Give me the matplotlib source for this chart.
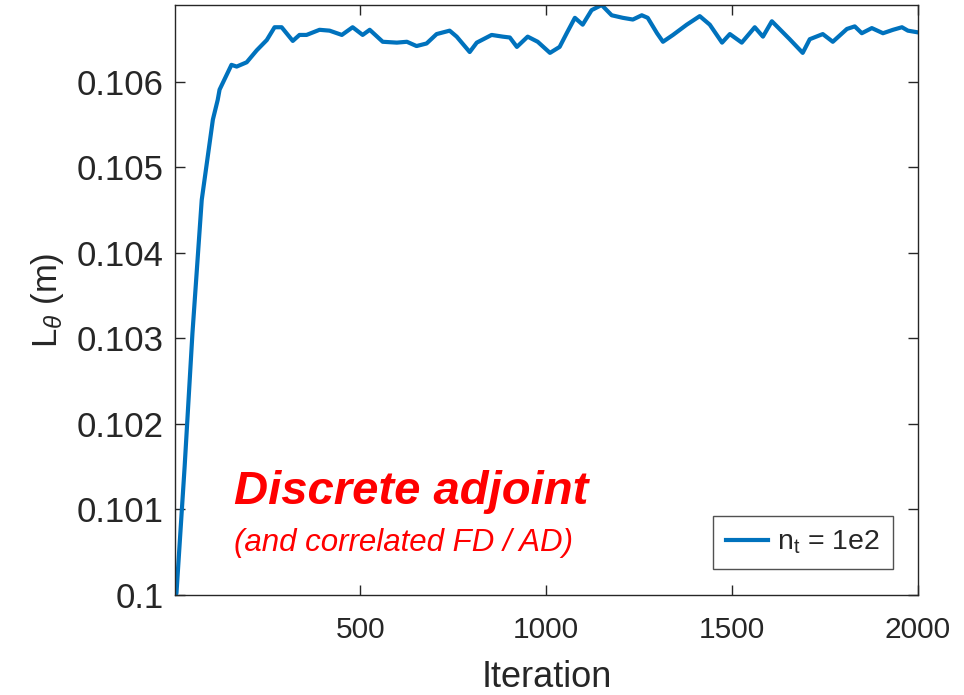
import matplotlib
matplotlib.use("Agg")
import matplotlib.pyplot as plt

plt.rcParams['font.family'] = ['Liberation Sans', 'DejaVu Sans']
plt.rcParams['mathtext.fontset'] = 'custom'
plt.rcParams['mathtext.rm'] = 'Liberation Sans'
plt.rcParams['mathtext.it'] = 'Liberation Sans:italic'

# values
iteration = [1, 5, 27, 48, 73, 103, 116, 121, 153, 167, 194, 221, 248, 269, 288, 318,
             336, 355, 390, 417, 450, 479, 506, 525, 560, 598, 625, 651, 678, 705,
             740, 759, 794, 813, 853, 883, 902, 921, 950, 977, 1010, 1036, 1055,
             1077, 1098, 1122, 1149, 1176, 1206, 1233, 1257, 1273, 1298, 1314, 1341,
             1378, 1413, 1440, 1473, 1494, 1526, 1561, 1583, 1607, 1655, 1690, 1709,
             1744, 1771, 1809, 1830, 1849, 1876, 1906, 1933, 1957, 1973, 2000]
L_theta = [0.10000, 0.10002, 0.10150, 0.10306, 0.10462, 0.10556, 0.10579, 0.10591,
           0.10620, 0.10618, 0.10623, 0.10637, 0.10649, 0.10664, 0.10664, 0.10648,
           0.10655, 0.10655, 0.10661, 0.10660, 0.10655, 0.10664, 0.10655, 0.10661,
           0.10647, 0.10646, 0.10647, 0.10642, 0.10645, 0.10656, 0.10660, 0.10653,
           0.10635, 0.10646, 0.10655, 0.10653, 0.10652, 0.10641, 0.10653, 0.10647,
           0.10634, 0.10641, 0.10657, 0.10675, 0.10667, 0.10684, 0.10690, 0.10678,
           0.10675, 0.10673, 0.10678, 0.10675, 0.10657, 0.10647, 0.10655, 0.10667,
           0.10677, 0.10667, 0.10646, 0.10656, 0.10646, 0.10664, 0.10653, 0.10671,
           0.10650, 0.10634, 0.10650, 0.10656, 0.10647, 0.10662, 0.10665, 0.10657,
           0.10663, 0.10657, 0.10661, 0.10664, 0.10660, 0.10658]

xtick_vals = [500, 1000, 1500, 2000]
ytick_vals = [0.100, 0.101, 0.102, 0.103, 0.104, 0.105, 0.106]
ytick_labels = ['0.1', '0.101', '0.102', '0.103', '0.104', '0.105', '0.106']

fig = plt.figure(figsize=(9.64, 6.95), dpi=100)
ax = fig.add_axes([0.1815, 0.1439, 0.7707, 0.8489])

ax.plot(iteration, L_theta, color='#0072BD', linewidth=3, label=r'n$_\mathrm{t}$ = 1e2')

ax.set_xlim(1, 2000)
ax.set_ylim(0.1, 0.10690)
ax.set_xticks(xtick_vals)
ax.set_yticks(ytick_vals)
ax.set_yticklabels(ytick_labels)

ax.tick_params(direction='in', length=7, width=1, color='#262626',
               top=True, right=True, labelcolor='#262626')
ax.tick_params(axis='x', labelsize=21.5, pad=15)
ax.tick_params(axis='y', labelsize=25, pad=8)
for s in ax.spines.values():
    s.set_color('#262626')
    s.set_linewidth(1)

ax.set_xlabel('Iteration', fontsize=26, color='#262626', labelpad=12)
ax.set_ylabel(r'L$_\theta$ (m)', fontsize=25, color='#262626', labelpad=8)

ax.text(0.079, 0.155, 'Discrete adjoint', transform=ax.transAxes, color='red',
        fontsize=34, fontweight='bold', style='italic', va='baseline')
ax.text(0.079, 0.075, '(and correlated FD / AD)', transform=ax.transAxes, color='red',
        fontsize=22.5, style='italic', va='baseline')

leg = ax.legend(loc='lower right', fontsize=20.5, frameon=True, fancybox=False,
                edgecolor='#262626', handlelength=1.5, handletextpad=0.3,
                borderpad=0.45, borderaxespad=0, bbox_to_anchor=(0.966, 0.044))
leg.get_frame().set_linewidth(1)
for t in leg.get_texts():
    t.set_color('#262626')

fig.savefig('out.png', dpi=100)
